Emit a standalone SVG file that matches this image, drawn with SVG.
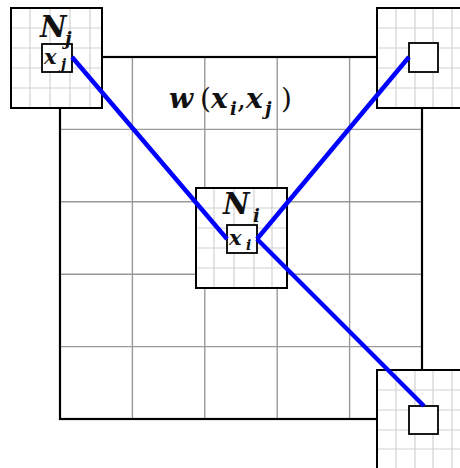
<svg xmlns="http://www.w3.org/2000/svg" width="460" height="468" viewBox="0 0 460 468">
<style>
.box{fill:#fff;stroke:#000;stroke-width:2}
.inner{fill:#fff;stroke:#000;stroke-width:1.8}
.big{stroke:#999;stroke-width:1.4;fill:none}
.fine{stroke:#d2d2d2;stroke-width:1.2;fill:none}
.edge{stroke:#0000ff;stroke-width:4.5;stroke-linecap:butt;fill:none}
.m{font-family:"DejaVu Serif","Liberation Serif",serif;font-weight:bold;font-style:italic;fill:#111}
.p{font-family:"DejaVu Serif","Liberation Serif",serif;font-weight:normal;font-style:normal;fill:#111}
</style>
<rect width="460" height="468" fill="#fff"/>
<g id="window">
<rect x="60" y="57" width="362" height="362" fill="#fff"/>
<path class="big" d="M132.4 57V419M204.8 57V419M277.2 57V419M349.6 57V419M60 129.4H422M60 201.8H422M60 274.2H422M60 346.6H422"/>
<rect x="60" y="57" width="362" height="362" fill="none" stroke="#000" stroke-width="2.2"/>
<text class="m" font-size="28"><tspan x="169" y="108">w</tspan><tspan class="p" x="200" y="108">(</tspan><tspan x="211" y="108">x</tspan><tspan x="230" y="115" font-size="18">i</tspan><tspan class="p" x="237" y="108">,</tspan><tspan x="246" y="108">x</tspan><tspan x="265" y="115" font-size="18">j</tspan><tspan class="p" x="281" y="108">)</tspan></text>
</g>
<g id="Nj">
<rect class="box" x="11" y="8" width="91" height="100"/>
<path class="fine" d="M30 9V107M50 9V107M70 9V107M90 9V107M12 28H101M12 48H101M12 68H101M12 88H101"/>
<rect class="inner" x="42" y="44" width="30" height="28"/>
<text class="m" font-size="29" x="40" y="37">N</text>
<text class="m" font-size="18" x="65" y="45">j</text>
<text class="m" font-size="21" x="44" y="64">x</text>
<text class="m" font-size="14" x="61" y="69">j</text>
</g>
<g id="Ni">
<rect class="box" x="196" y="188" width="91" height="100"/>
<path class="fine" d="M214 189V287M234 189V287M254 189V287M272 189V287M197 208H286M197 228H286M197 248H286M197 268H286"/>
<rect class="inner" x="227" y="225" width="30" height="28"/>
<text class="m" font-size="29" x="223" y="214">N</text>
<text class="m" font-size="18" x="253" y="222">i</text>
<text class="m" font-size="21" x="229" y="245">x</text>
<text class="m" font-size="14" x="246" y="250">i</text>
</g>
<g id="Nk">
<rect class="box" x="377" y="8" width="95" height="100"/>
<path class="fine" d="M396 9V107M415 9V107M433 9V107M452 9V107M378 28H460M378 48H460M378 68H460M378 88H460"/>
<rect class="inner" x="409" y="43" width="29" height="29"/>
</g>
<g id="Nl">
<rect class="box" x="377" y="370" width="95" height="110"/>
<path class="fine" d="M396 371V468M415 371V468M433 371V468M452 371V468M378 390H460M378 410H460M378 430H460M378 449H460"/>
<rect class="inner" x="409" y="406" width="29" height="28"/>
</g>
<g id="connectors">
<line class="edge" x1="72" y1="57" x2="227" y2="239"/>
<line class="edge" x1="257" y1="239" x2="409" y2="57"/>
<line class="edge" x1="257" y1="239" x2="424" y2="406"/>
</g>
</svg>
